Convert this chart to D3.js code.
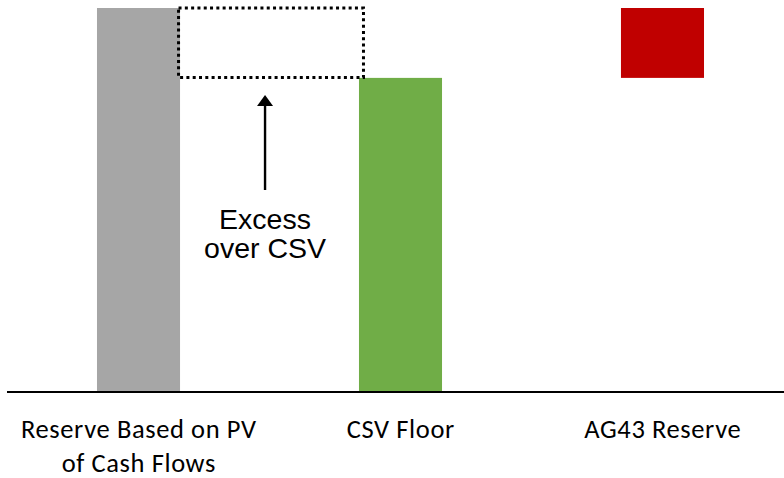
<!DOCTYPE html>
<html><head><meta charset="utf-8">
<script src="https://cdn.jsdelivr.net/npm/d3@7"></script>
<style>html,body{margin:0;padding:0;background:#fff;}svg{display:block;}</style>
</head><body>
<svg id="chart" width="784" height="478"></svg>
<script>
const categories = ["Reserve Based on PV|of Cash Flows", "CSV Floor", "AG43 Reserve"];
const baseValues = [0, 0, 81.8];
const topValues = [100, 81.8, 100];
const barColors = ["#A6A6A6", "#70AD47", "#C00000"];
const annotationLines = ["Excess", "over CSV"];

const svg = d3.select("#chart");
const x = d3.scaleBand().domain(categories).range([7, 794]).paddingInner(0.683).paddingOuter(0.3435);
const y = d3.scaleLinear().domain([0, 100]).range([392, 8]);
const bw = x.bandwidth();

// bars
svg.selectAll("rect.bar").data(categories).join("rect")
  .attr("class", "bar")
  .attr("x", d => x(d))
  .attr("width", bw)
  .attr("y", (d, i) => y(topValues[i]))
  .attr("height", (d, i) => y(baseValues[i]) - y(topValues[i]))
  .attr("fill", (d, i) => barColors[i]);

// dotted excess box
const bx0 = x(categories[0]) + bw - 1.5;
const bx1 = x(categories[1]) + 4.5;
svg.append("rect")
  .attr("x", bx0).attr("y", y(topValues[0]))
  .attr("width", bx1 - bx0).attr("height", y(topValues[1]) - y(topValues[0]) - 0.5)
  .attr("fill", "none").attr("stroke", "#000").attr("stroke-width", 3)
  .attr("stroke-dasharray", "3,3.3");

// baseline axis
const axis = d3.axisBottom(x).tickSize(0).tickFormat("");
const gAxis = svg.append("g").attr("transform", `translate(0,${y(0)})`).call(axis);
gAxis.select(".domain").attr("stroke", "#000").attr("stroke-width", 1.8).attr("d", "M7,0H784");

// category labels (one text element per line)
categories.forEach(c => {
  const lines = c.split("|");
  lines.forEach((l, i) => {
    svg.append("text")
      .attr("x", x(c) + bw / 2 + 0.3).attr("y", 438 + i * 34)
      .attr("text-anchor", "middle")
      .attr("font-family", "Carlito, Calibri, Lato, sans-serif")
      .attr("font-size", 26.5).attr("letter-spacing", 0.6).attr("fill", "#000")
      .text(l);
  });
});

// arrow annotation
const ax = x(categories[0]) + bw + 85;
const tipY = y(topValues[1]) + 17;
svg.append("line").attr("x1", ax).attr("x2", ax).attr("y1", 190).attr("y2", tipY + 10)
  .attr("stroke", "#000").attr("stroke-width", 2.4);
svg.append("path")
  .attr("d", `M${ax},${tipY}L${ax + 8},${tipY + 11}L${ax - 8},${tipY + 11}Z`)
  .attr("fill", "#000");

annotationLines.forEach((l, i) => {
  svg.append("text")
    .attr("x", ax).attr("y", 229 + i * 29)
    .attr("text-anchor", "middle")
    .attr("font-family", "Liberation Sans, Arial, sans-serif")
    .attr("font-size", 28.5).attr("fill", "#000")
    .text(l);
});
</script>
</body></html>
